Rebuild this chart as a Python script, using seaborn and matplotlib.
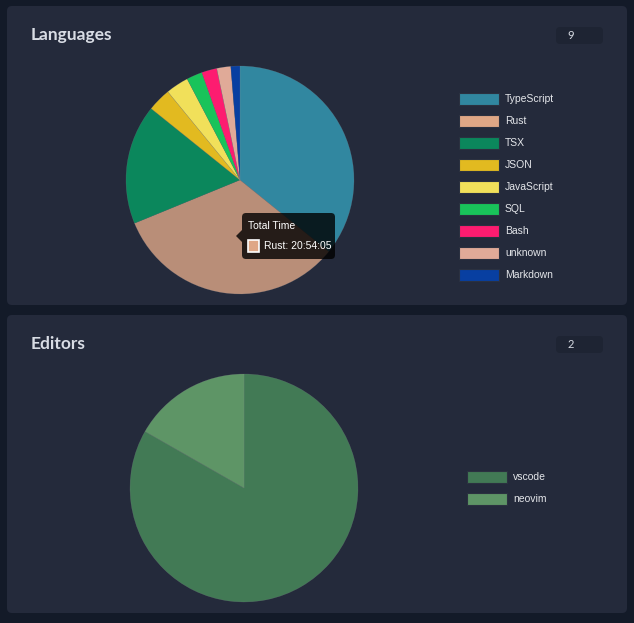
import matplotlib
matplotlib.use("Agg")
import matplotlib.pyplot as plt
from matplotlib.patches import FancyBboxPatch, Rectangle, Polygon
import seaborn as sns

# ---- data ----
lang_names = ["TypeScript", "Rust", "TSX", "JSON", "JavaScript", "SQL", "Bash", "unknown", "Markdown"]
lang_hours = [22.68, 20.90, 10.75, 2.10, 2.05, 1.42, 1.37, 1.25, 0.82]
lang_colors = ["#3187a0", "#dfa786", "#0b875c", "#e2ba20", "#f1e05a", "#19c35a", "#fd1c70", "#e0aa98", "#083fa1"]
rust_hover_color = "#b98e78"

editor_names = ["vscode", "neovim"]
editor_hours = [52.7, 10.6]
editor_colors = ["#427a55", "#5e9566"]

card_titles = ["Languages", "Editors"]
card_counts = ["9", "2"]
tooltip_title = "Total Time"
tooltip_label = "Rust: 20:54:05"

sns.set_theme(style="dark")
plt.rcParams["font.family"] = ["Liberation Sans", "DejaVu Sans"]

W, H = 634, 623
fig = plt.figure(figsize=(W / 100, H / 100), dpi=100)
fig.patch.set_facecolor("#131a28")

def fx(x):
    return x / W

def fy(y):
    return 1 - y / H

# background axes for cards (pixel coords, y down)
bg = fig.add_axes([0, 0, 1, 1])
bg.set_xlim(0, W)
bg.set_ylim(H, 0)
bg.axis("off")
bg.set_facecolor("none")

cards = [(7, 6, 620, 299), (7, 315, 620, 298)]
for (x, y, w, h), title, cnt in zip(cards, card_titles, card_counts):
    bg.add_patch(FancyBboxPatch((x, y), w, h, boxstyle="round,pad=0,rounding_size=5",
                                fc="#242a3b", ec="none"))
    bg.text(x + 24, y + 29, title, fontsize=12.5, fontweight="bold", color="#d8dce4",
            family=["Lato", "DejaVu Sans"], va="center", ha="left")
    bg.add_patch(FancyBboxPatch((556, y + 21), 47, 17, boxstyle="round,pad=0,rounding_size=4",
                                fc="#1e2433", ec="none"))
    bg.text(571, y + 29.5, cnt, fontsize=8, color="#d8dce4", va="center", ha="center",
            family=["Lato", "DejaVu Sans"])

wedge_style = dict(linewidth=0.3, edgecolor=(0.55, 0.55, 0.58, 0.35))

# ---- Languages pie ----
ax1 = fig.add_axes([fx(126), fy(294), 228 / W, 228 / H])
pie_cols = [rust_hover_color if n == "Rust" else c for n, c in zip(lang_names, lang_colors)]
ax1.pie(lang_hours, colors=pie_cols, startangle=90, counterclock=False, radius=1,
        wedgeprops=wedge_style)
ax1.set_xlim(-1, 1)
ax1.set_ylim(-1, 1)
ax1.axis("off")

# ---- Editors pie ----
ax2 = fig.add_axes([fx(130), fy(602), 228 / W, 228 / H])
ax2.pie(editor_hours, colors=editor_colors, startangle=90, counterclock=False, radius=1,
        wedgeprops=wedge_style)
ax2.set_xlim(-1, 1)
ax2.set_ylim(-1, 1)
ax2.axis("off")

# ---- legends (drawn on background axes, pixel coords) ----
def draw_legend(names, colors, x0, y0, step):
    for i, (n, c) in enumerate(zip(names, colors)):
        yc = y0 + i * step
        bg.add_patch(Rectangle((x0, yc - 6), 40, 12, fc=c, ec="#2b3140", lw=0.8, zorder=3))
        bg.text(x0 + 46, yc, n, fontsize=7.5, color="#e4e6ea", va="center", ha="left", zorder=3)

draw_legend(lang_names, lang_colors, 459, 98.5, 22)
draw_legend(editor_names, editor_colors, 467, 477, 21.5)

# ---- tooltip ----
tip = fig.add_axes([0, 0, 1, 1])
tip.set_xlim(0, W)
tip.set_ylim(H, 0)
tip.axis("off")
tip.patch.set_alpha(0)
tip.add_patch(FancyBboxPatch((242, 213), 93, 46, boxstyle="round,pad=0,rounding_size=4",
                             fc="#000000", alpha=0.8, ec="none"))
tip.add_patch(Polygon([(242, 230), (236, 236), (242, 242)], closed=True, fc="#000000",
                      alpha=0.8, ec="none"))
tip.text(248, 226, tooltip_title, fontsize=7.5, color="#ffffff", va="center", ha="left")
tip.add_patch(Rectangle((248, 240), 11, 12, fc=lang_colors[1], ec="#ffffff", lw=1.2))
tip.text(264, 246, tooltip_label, fontsize=7.5, color="#ffffff", va="center", ha="left")

fig.savefig("out.png", dpi=100, facecolor=fig.get_facecolor())
